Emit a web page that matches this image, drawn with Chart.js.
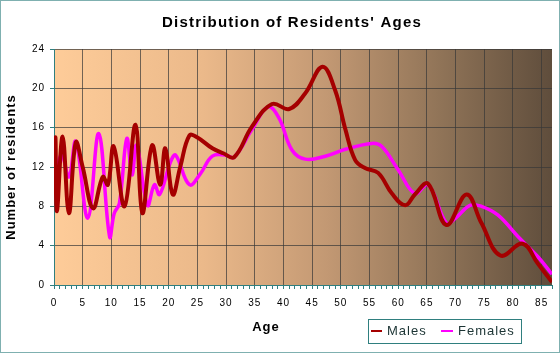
<!DOCTYPE html>
<html>
<head>
<meta charset="utf-8">
<style>
  html, body { margin: 0; padding: 0; background: #fff; }
  canvas { display: block; }
</style>
<script src="https://cdn.jsdelivr.net/npm/chart.js@4.4.1/dist/chart.umd.min.js"></script>
</head>
<body>
<canvas id="agesChart" width="560" height="353"></canvas>
<script>
// values
const maleAges = [0, 0.25, 0.5, 1.5, 2.6, 3.8, 5, 6.8, 8.5, 9.4, 10.4, 12.3, 14.2, 15.4, 17.1, 18.5, 19.4, 20.7, 22, 23.6, 25, 27.6, 29.5, 31.4, 34.5, 38, 41, 43.8, 46.8, 49, 50.8, 52.5, 54.2, 56.5, 58.9, 61.2, 62.9, 65.2, 68.4, 71.9, 74.5, 77.8, 81.7, 84.3, 86.8];
const maleCounts = [10, 15, 7.5, 15.1, 7.3, 14.5, 12, 7.8, 11, 10.2, 14.1, 8, 16.3, 7.3, 14.2, 10.2, 13.9, 9.2, 12, 15.2, 15, 13.9, 13.4, 13, 16.1, 18.4, 17.9, 19.5, 22.2, 19.8, 15.8, 12.7, 11.9, 11.4, 9.3, 8.1, 9.2, 10.3, 6.1, 9.2, 6.3, 3, 4.2, 2.2, 0.3];
const femaleAges = [0, 1.3, 2.6, 3.8, 5.9, 7.8, 9.7, 10.5, 11.4, 12.7, 13.6, 14.4, 16.3, 17.5, 18.4, 20.3, 21.2, 23.6, 25.5, 27.6, 30, 31.4, 34.5, 37.3, 39.2, 41.5, 43.8, 47.3, 50.8, 55.4, 57.1, 60, 62.9, 65.2, 68.4, 70, 72.5, 74.5, 77.4, 80.9, 84.3, 86.8];
const femaleCounts = [10, 13.3, 11, 14.6, 6.8, 15.4, 4.9, 7.3, 8.3, 14.9, 11.2, 14.2, 8.1, 10.2, 9.2, 12.5, 13.2, 10.2, 11.3, 13.1, 13.2, 13, 15.8, 18.1, 17, 13.7, 12.8, 13.1, 13.8, 14.4, 14.1, 11.7, 9.3, 10.2, 6.3, 6.8, 8.1, 8, 7.1, 4.9, 2.9, 1.1];
const xTickStep = 5;
const yTicks = [0, 4, 8, 12, 16, 20, 24];

const FONT = "'Liberation Sans', Arial, sans-serif";
const maleColor = '#a50000';
const femaleColor = '#ff00ff';
const gridColor = 'rgba(55, 55, 55, 0.7)';
const axisColor = '#2f7f7f';

const toPoints = (xs, ys) => xs.map((x, i) => ({ x, y: ys[i] }));

const decorPlugin = {
  id: 'decor',
  beforeDraw(chart) {
    const { ctx, chartArea: a } = chart;
    ctx.save();
    ctx.fillStyle = '#fff';
    ctx.fillRect(0, 0, chart.width, chart.height);
    ctx.strokeStyle = '#7fb0b0';
    ctx.lineWidth = 1;
    ctx.strokeRect(0.5, 0.5, chart.width - 1, chart.height - 1);
    const g = ctx.createLinearGradient(a.left, 0, a.right, 0);
    g.addColorStop(0, '#fecc99');
    g.addColorStop(0.3, '#ebb98a');
    g.addColorStop(0.55, '#c29873');
    g.addColorStop(0.78, '#8f7357');
    g.addColorStop(1, '#5f4d3c');
    ctx.fillStyle = g;
    ctx.fillRect(a.left, a.top, a.right - a.left, a.bottom - a.top);
    ctx.restore();
    ctx.letterSpacing = '1px';
  },
  afterDraw(chart) {
    const { ctx } = chart;
    ctx.save();
    ctx.fillStyle = '#000';
    ctx.textBaseline = 'middle';
    ctx.textAlign = 'center';
    ctx.letterSpacing = '1.2px';
    ctx.font = `bold 15px ${FONT}`;
    ctx.fillText("Distribution of Residents' Ages", 292, 23);
    ctx.letterSpacing = '1px';
    ctx.font = `bold 13px ${FONT}`;
    ctx.fillText('Age', 266, 327);

    // legend box
    ctx.strokeStyle = axisColor;
    ctx.lineWidth = 1;
    ctx.strokeRect(368.5, 319.5, 153, 24);
    ctx.lineWidth = 2;
    ctx.strokeStyle = maleColor;
    ctx.beginPath(); ctx.moveTo(371, 331); ctx.lineTo(382, 331); ctx.stroke();
    ctx.strokeStyle = femaleColor;
    ctx.beginPath(); ctx.moveTo(441, 331); ctx.lineTo(453, 331); ctx.stroke();
    ctx.textAlign = 'left';
    ctx.font = `13px ${FONT}`;
    ctx.fillStyle = '#1c3434';
    ctx.fillText('Males', 387, 331);
    ctx.fillText('Females', 458, 331);
    ctx.restore();
  }
};

new Chart(document.getElementById('agesChart'), {
  type: 'line',
  data: {
    datasets: [
      {
        label: 'Males',
        data: toPoints(maleAges, maleCounts),
        borderColor: maleColor,
        borderWidth: 4,
        pointRadius: 0,
        tension: 0.4,
      },
      {
        label: 'Females',
        data: toPoints(femaleAges, femaleCounts),
        borderColor: femaleColor,
        borderWidth: 3.5,
        pointRadius: 0,
        tension: 0.4,
      },
    ],
  },
  options: {
    responsive: false,
    animation: false,
    devicePixelRatio: 1,
    layout: { padding: { top: 49, right: 6, left: 0, bottom: 0 } },
    plugins: {
      legend: { display: false },
      tooltip: { enabled: false },
    },
    scales: {
      x: {
        type: 'linear',
        min: 0,
        max: 86.8,
        afterFit: (s) => { s.height = 68; },
        ticks: {
          stepSize: 1,
          autoSkip: false,
          maxRotation: 0,
          padding: 8,
          color: '#000',
          font: { family: FONT, size: 10 },
          callback: (v) => (v % xTickStep === 0 ? String(v) : ''),
        },
        grid: {
          color: (c) => (c.tick && c.tick.value % xTickStep === 0 && c.tick.value !== 0 ? gridColor : 'transparent'),
          tickColor: axisColor,
          tickLength: 4,
        },
        border: { color: axisColor, width: 1 },
      },
      y: {
        min: 0,
        max: 24,
        afterFit: (s) => { s.width = 54; },
        afterBuildTicks: (s) => { s.ticks = yTicks.map((v) => ({ value: v })); },
        ticks: {
          padding: 5,
          color: '#000',
          font: { family: FONT, size: 10 },
        },
        grid: {
          color: (c) => (c.tick && c.tick.value !== 0 ? gridColor : 'transparent'),
          tickColor: axisColor,
          tickLength: 4,
        },
        border: { color: axisColor, width: 1 },
        title: {
          display: true,
          text: 'Number of residents',
          color: '#000',
          font: { family: FONT, size: 13, weight: 'bold' },
          padding: { top: 4, bottom: 0 },
        },
      },
    },
  },
  plugins: [decorPlugin],
});
</script>
</body>
</html>
